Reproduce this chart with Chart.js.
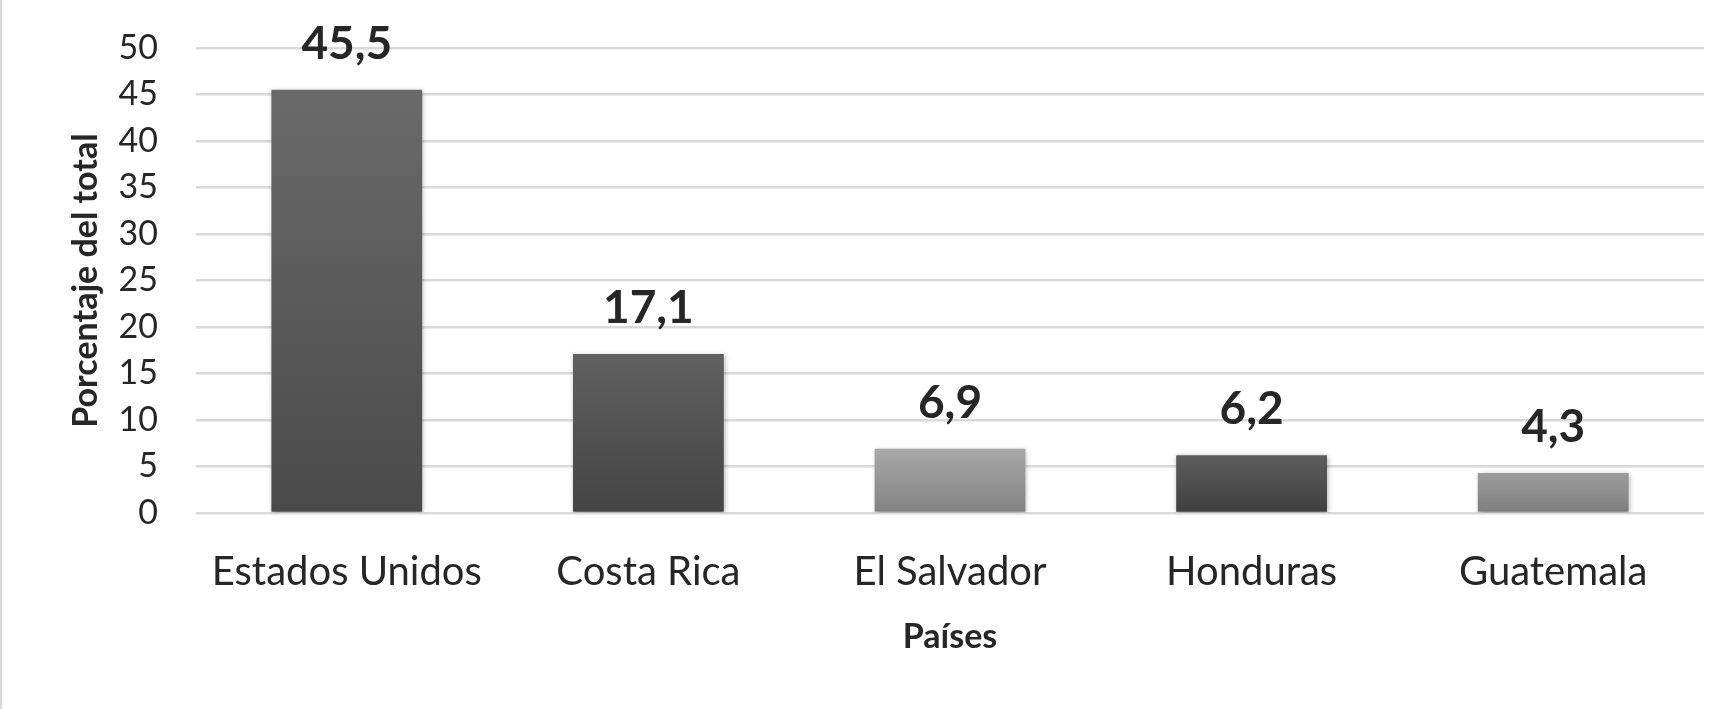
<!DOCTYPE html>
<html>
<head>
<meta charset="utf-8">
<script src="https://cdn.jsdelivr.net/npm/chart.js@4"></script>
<style>
  html, body { margin: 0; padding: 0; background: #fff; }
  #wrap { position: relative; width: 1712px; height: 709px; box-sizing: border-box; border-left: 2px solid #d9d9d9; }
</style>
</head>
<body>
<div id="wrap"><canvas id="paises"></canvas></div>
<script>
// categorias y valores (porcentaje del total)
const paises = ['Estados Unidos', 'Costa Rica', 'El Salvador', 'Honduras', 'Guatemala'];
const porcentajes = [45.5, 17.1, 6.9, 6.2, 4.3];
const ticksY = [0, 5, 10, 15, 20, 25, 30, 35, 40, 45, 50];

// colores de las barras (arriba, abajo)
const coloresArriba = ['#6a6a6a', '#606060', '#a8a8a8', '#5d5d5d', '#9c9c9c'];
const coloresAbajo = ['#4a4a4a', '#444444', '#828282', '#3f3f3f', '#7e7e7e'];

const fuente = 'Lato, "Open Sans", sans-serif';

function degradado(context) {
    const chart = context.chart;
    const i = context.dataIndex;
    if (!chart.chartArea || i === undefined) return coloresArriba[i || 0];
    const y = chart.scales.y;
    const top = y.getPixelForValue(porcentajes[i]);
    const bottom = y.getPixelForValue(0);
    const g = chart.ctx.createLinearGradient(0, top, 0, bottom);
    g.addColorStop(0, coloresArriba[i]);
    g.addColorStop(1, coloresAbajo[i]);
    return g;
}

// sombra suave detras de las barras
const sombra = {
    id: 'sombra',
    beforeDatasetsDraw(chart) {
        const ctx = chart.ctx;
        ctx.save();
        ctx.shadowColor = 'rgba(0,0,0,0.3)';
        ctx.shadowBlur = 5;
        ctx.shadowOffsetX = 1;
        ctx.shadowOffsetY = 1;
    },
    afterDatasetsDraw(chart) {
        chart.ctx.restore();
    }
};

// etiquetas de valor encima de cada barra
const etiquetas = {
    id: 'etiquetas',
    afterDatasetsDraw(chart) {
        const ctx = chart.ctx;
        const meta = chart.getDatasetMeta(0);
        ctx.save();
        ctx.font = 'bold 46px ' + fuente;
        ctx.fillStyle = '#262626';
        ctx.textAlign = 'center';
        ctx.textBaseline = 'middle';
        meta.data.forEach((bar, i) => {
            const txt = porcentajes[i].toFixed(1).replace('.', ',');
            ctx.fillText(txt, bar.x, bar.y - 46);
        });
        ctx.restore();
    }
};

window.onload = function () {
    const ctx = document.getElementById('paises').getContext('2d');
    new Chart(ctx, {
        type: 'bar',
        data: {
            labels: paises,
            datasets: [{
                data: porcentajes,
                backgroundColor: degradado,
                borderWidth: 0,
                barPercentage: 0.5,
                categoryPercentage: 1
            }]
        },
        options: {
            responsive: true,
            maintainAspectRatio: false,
            animation: false,
            layout: { padding: { top: 48, right: 8, bottom: 0, left: 0 } },
            plugins: {
                legend: { display: false },
                tooltip: { enabled: false }
            },
            scales: {
                x: {
                    grid: { display: false, drawTicks: false },
                    border: { display: false },
                    ticks: {
                        padding: 35,
                        color: '#262626',
                        font: { family: fuente, size: 40 }
                    },
                    title: {
                        display: true,
                        text: 'Países',
                        color: '#262626',
                        font: { family: fuente, size: 34, weight: 'bold' },
                        padding: { top: 0, bottom: 52 }
                    },
                    afterFit(scale) { scale.height = 196; }
                },
                y: {
                    min: 0,
                    max: 50,
                    afterBuildTicks(scale) { scale.ticks = ticksY.map(v => ({ value: v })); },
                    grid: { color: '#d9d9d9', lineWidth: 2.5, drawTicks: false },
                    border: { display: false },
                    ticks: {
                        autoSkip: false,
                        padding: 38,
                        color: '#262626',
                        font: { family: fuente, size: 34 }
                    },
                    title: {
                        display: true,
                        text: 'Porcentaje del total',
                        color: '#262626',
                        font: { family: fuente, size: 34, weight: 'bold' },
                        padding: { top: 64, bottom: 0 }
                    },
                    afterFit(scale) {
                        scale.width = 194;
                        // el padding de las etiquetas no debe empujar el area del grafico
                        scale.paddingTop = 0;
                        scale.paddingBottom = 0;
                    }
                }
            }
        },
        plugins: [sombra, etiquetas]
    });
};
</script>
</body>
</html>
